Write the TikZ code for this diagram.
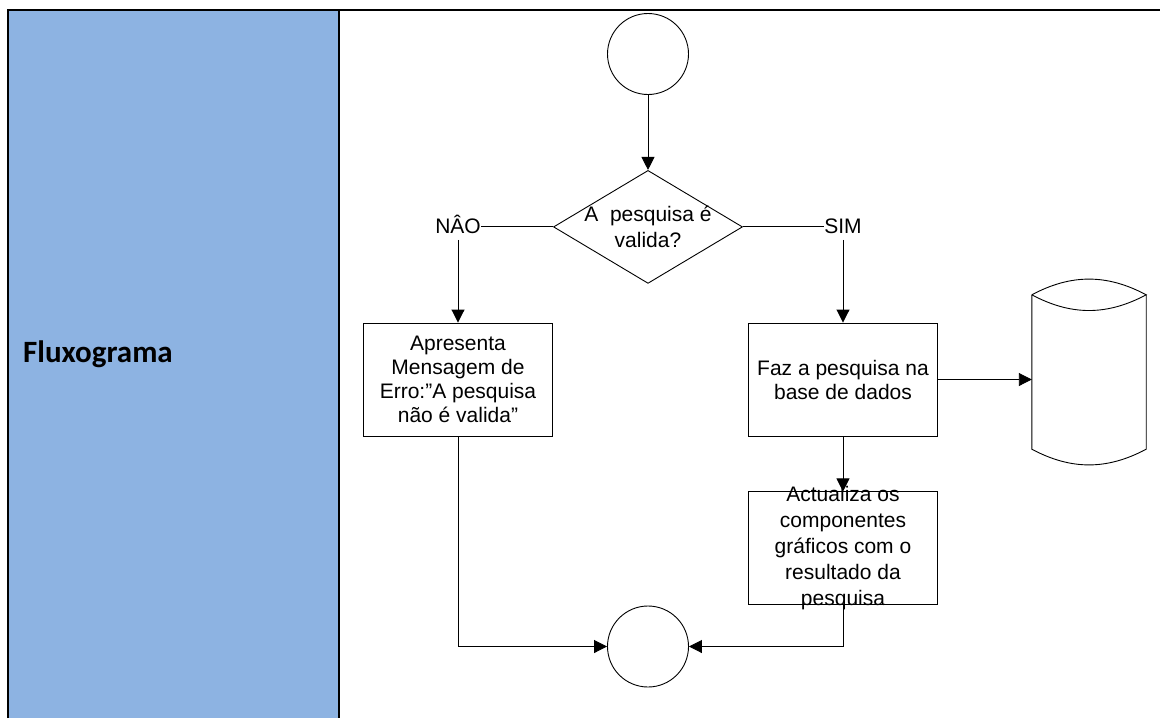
\documentclass[tikz,border=0pt]{standalone}
\usepackage{fontspec}
\setmainfont{Liberation Sans}
\newfontfamily\carlito{Carlito}
\usetikzlibrary{arrows.meta}
\usetikzlibrary{positioning}
\usetikzlibrary{shapes.geometric}
\definecolor{colblue}{RGB}{141,179,226}

\begin{document}
\begin{tikzpicture}[x=1pt, y=1pt,
    flow/.style={draw, line width=0.9pt},
    arr/.style={flow, -{Triangle[length=13pt,width=13pt]}},
    term/.style={circle, draw, line width=0.9pt, minimum size=81pt, inner sep=0pt},
    decision/.style={diamond, draw, line width=0.9pt, minimum width=189pt, minimum height=113pt, inner sep=0pt},
    proc/.style={rectangle, draw, line width=0.9pt, minimum width=189pt, minimum height=113pt, inner sep=2pt, align=center, font=\fontsize{21}{24}\selectfont},
    qtext/.style={align=center, font=\fontsize{21}{26}\selectfont},
    lbl/.style={inner sep=0pt, font=\fontsize{21}{24}\selectfont}]

    \useasboundingbox (0,0) rectangle (1160,-718);

    % table
    \fill [colblue] (8,-10) rectangle (339,-718);
    \draw [line width=2pt] (8,-718) -- (8,-10) -- (1160,-10);
    \draw [line width=2pt] (339,-10) -- (339,-718);
    \node (title) [anchor=base west, inner sep=0pt, font=\carlito\bfseries\fontsize{31}{36}\selectfont] at (23,-362) {Fluxograma};

    % flowchart
    \node (start) [term] at (648,-54) {};
    \node (dec) [decision, below = 75pt of start, label={[qtext]center:{A\ \ pesquisa é\\valida?}}] {};

    \node (nao) [lbl, anchor=base] at (458,-233.5) {NÂO};
    \node (sim) [lbl, anchor=base] at (843,-233.5) {SIM};

    \node (erro) [proc] at (458,-379.5) {Apresenta\\Mensagem de\\Erro:”A pesquisa\\não é valida”};
    \node (faz) [proc] at (843,-379.5) {Faz a pesquisa na\\base de dados};
    \node (act) [proc, below = 55pt of faz, label={[qtext]center:{Actualiza os\\componentes\\gráficos com o\\resultado da\\pesquisa}}] {};

    % database
    \node (bd) [minimum width=114pt, minimum height=154pt, inner sep=0pt] at (1089,-372) {};
    \draw [flow] (bd.north west) -- (bd.south west) to [bend right=28] (bd.south east) -- (bd.north east);
    \draw [flow] (bd.north west) to [bend left=28] (bd.north east) to [bend left=28] (bd.north west);

    \node (fim) [term] at (648,-646.5) {};

    \draw [arr] (start) -- (dec);
    \draw [flow] (dec.west) -- (dec.west -| nao.east);
    \draw [flow] (dec.east) -- (dec.east -| sim.west);
    \draw [arr, shorten <=6pt] (nao.south) -- (erro.north);
    \draw [arr, shorten <=6pt] (sim.south) -- (faz.north);
    \draw [arr] (faz.east) -- (faz.east -| bd.west);
    \draw [arr] (faz.south) -- (act.north);
    \draw [arr] (erro.south) |- (fim.west);
    \draw [arr] (act.south) |- (fim.east);
\end{tikzpicture}
\end{document}
